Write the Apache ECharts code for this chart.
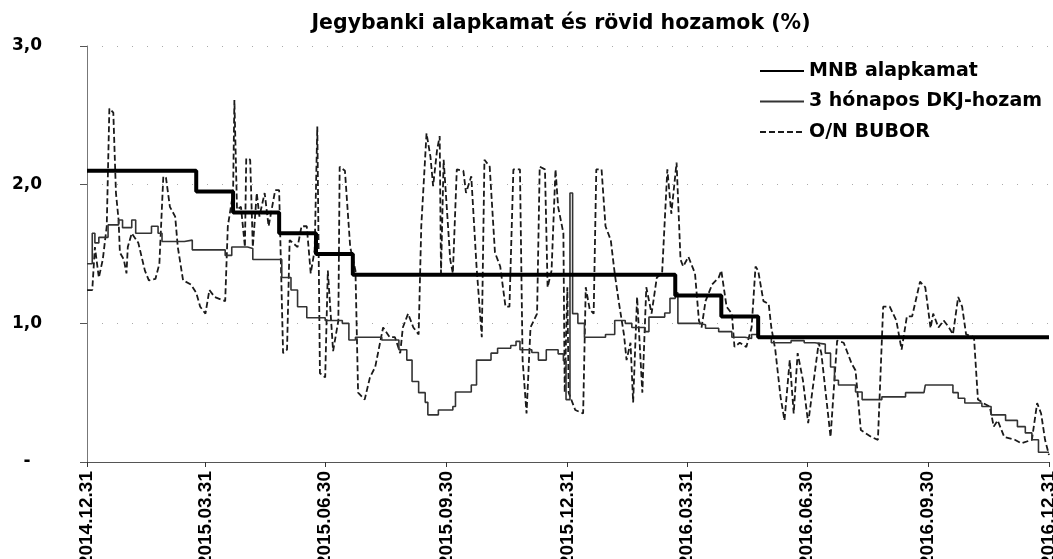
<!DOCTYPE html>
<html><head><meta charset="utf-8">
<script src="https://cdn.jsdelivr.net/npm/echarts@6/dist/echarts.min.js"></script>
<style>html,body{margin:0;padding:0;background:#fff}#c{width:1053px;height:559px}</style>
</head><body><div id="c"></div>
<script>
// Days counted from 2014-12-31
const startDate = '2014-12-31';
const tickDates = ['2014.12.31','2015.03.31','2015.06.30','2015.09.30','2015.12.31','2016.03.31','2016.06.30','2016.09.30','2016.12.31'];
const yTicks = [0, 1, 2, 3];

// MNB alapkamat (change dates as day offsets, new rate)
const mnbDays  = [0, 83, 111, 146, 174, 202, 447, 482, 510, 731];
const mnbRates = [2.10, 1.95, 1.80, 1.65, 1.50, 1.35, 1.20, 1.05, 0.90, 0.90];

// 3 hónapos DKJ-hozam
const dkjDays = [0, 4, 6, 9, 16, 24, 27, 34, 37, 49, 54, 57, 74, 80, 105, 110, 122, 126, 145, 148, 155, 160, 167, 181, 194, 199, 204, 224, 237, 243, 247, 252, 257, 259, 267, 278, 280, 292, 296, 307, 312, 322, 326, 329, 338, 343, 349, 358, 362, 364, 367, 369, 373, 378, 394, 401, 409, 414, 424, 427, 434, 439, 443, 447, 449, 465, 470, 480, 490, 500, 505, 510, 520, 535, 545, 553, 561, 565, 568, 571, 584, 589, 601, 604, 622, 636, 637, 655, 658, 662, 667, 680, 687, 698, 707, 713, 718, 723, 731];
const dkjYields = [1.43, 1.65, 1.58, 1.62, 1.71, 1.745, 1.69, 1.745, 1.65, 1.70, 1.65, 1.59, 1.60, 1.53, 1.49, 1.55, 1.54, 1.46, 1.46, 1.33, 1.24, 1.12, 1.04, 1.02, 1.00, 0.88, 0.90, 0.88, 0.81, 0.735, 0.58, 0.50, 0.43, 0.34, 0.375, 0.40, 0.505, 0.555, 0.735, 0.785, 0.82, 0.84, 0.87, 0.81, 0.79, 0.735, 0.81, 0.78, 0.73, 0.45, 1.94, 1.07, 1.00, 0.90, 0.92, 1.02, 1.00, 0.97, 0.94, 1.045, 1.045, 1.075, 1.18, 1.22, 1.00, 0.99, 0.965, 0.94, 0.90, 0.89, 0.92, 0.90, 0.86, 0.875, 0.86, 0.85, 0.785, 0.685, 0.59, 0.555, 0.505, 0.45, 0.45, 0.47, 0.50, 0.505, 0.555, 0.555, 0.50, 0.46, 0.425, 0.40, 0.34, 0.30, 0.255, 0.21, 0.16, 0.07, 0.07];

// O/N BUBOR
const buborDays = [0, 4, 6, 9, 12, 15, 17, 20, 22, 24, 25, 28, 30, 31, 34, 39, 44, 47, 52, 55, 58, 60, 63, 67, 69, 73, 79, 83, 86, 90, 93, 97, 105, 107, 111, 112, 114, 117, 120, 121, 124, 126, 129, 131, 135, 138, 143, 146, 149, 152, 154, 160, 163, 167, 170, 173, 175, 177, 181, 183, 187, 191, 192, 196, 200, 204, 206, 211, 215, 219, 225, 230, 234, 238, 240, 244, 248, 252, 254, 258, 261, 263, 266, 268, 269, 271, 276, 278, 281, 286, 288, 292, 296, 300, 302, 306, 310, 314, 318, 321, 324, 329, 331, 334, 337, 342, 344, 348, 350, 353, 356, 358, 362, 363, 365, 366, 371, 377, 379, 382, 385, 387, 391, 394, 398, 401, 404, 408, 410, 413, 415, 418, 422, 425, 429, 433, 437, 441, 444, 448, 451, 453, 457, 462, 465, 467, 470, 475, 480, 482, 486, 490, 492, 496, 501, 505, 508, 510, 514, 518, 520, 523, 527, 530, 534, 537, 540, 544, 548, 556, 558, 565, 570, 575, 581, 584, 588, 596, 601, 605, 610, 615, 619, 623, 627, 633, 637, 641, 643, 647, 651, 655, 658, 662, 665, 668, 674, 677, 681, 686, 689, 692, 697, 705, 710, 718, 722, 725, 728, 731];
const buborRates = [1.24, 1.24, 1.55, 1.33, 1.46, 1.70, 2.55, 2.52, 1.94, 1.745, 1.51, 1.46, 1.36, 1.55, 1.65, 1.58, 1.38, 1.31, 1.32, 1.43, 2.06, 2.05, 1.84, 1.77, 1.55, 1.31, 1.28, 1.22, 1.12, 1.07, 1.24, 1.19, 1.16, 1.70, 1.94, 2.61, 1.82, 1.84, 1.55, 2.19, 2.18, 1.55, 1.94, 1.77, 1.94, 1.70, 1.96, 1.96, 0.785, 0.81, 1.60, 1.55, 1.70, 1.70, 1.36, 1.53, 2.42, 0.64, 0.61, 1.38, 0.80, 1.02, 2.13, 2.10, 1.55, 1.38, 0.50, 0.45, 0.61, 0.685, 0.97, 0.90, 0.90, 0.785, 0.97, 1.07, 0.97, 0.92, 1.70, 2.37, 2.20, 1.99, 2.25, 2.35, 1.36, 2.18, 1.46, 1.36, 2.11, 2.10, 1.94, 2.06, 1.41, 0.90, 2.18, 2.13, 1.51, 1.41, 1.12, 1.12, 2.11, 2.11, 0.735, 0.35, 0.97, 1.07, 2.13, 2.11, 1.26, 1.38, 2.11, 1.84, 1.65, 0.50, 1.26, 0.50, 0.375, 0.35, 1.26, 1.10, 1.07, 2.11, 2.11, 1.70, 1.60, 1.36, 1.16, 0.92, 0.735, 0.86, 0.43, 1.19, 0.50, 1.26, 1.07, 1.33, 1.36, 2.11, 1.79, 2.16, 1.46, 1.41, 1.48, 1.36, 1.02, 0.97, 1.16, 1.28, 1.33, 1.38, 1.12, 1.07, 0.83, 0.86, 0.83, 0.97, 1.41, 1.38, 1.16, 1.14, 0.97, 0.81, 0.47, 0.30, 0.735, 0.35, 0.785, 0.59, 0.28, 0.86, 0.785, 0.18, 0.875, 0.86, 0.71, 0.66, 0.23, 0.18, 0.16, 1.12, 1.12, 1.02, 0.81, 1.05, 1.05, 1.30, 1.26, 0.965, 1.07, 0.97, 1.02, 0.97, 0.92, 1.19, 1.12, 0.92, 0.90, 0.45, 0.425, 0.40, 0.255, 0.30, 0.18, 0.16, 0.135, 0.16, 0.425, 0.35, 0.16, 0.05];

const seriesNames = ['MNB alapkamat', '3 hónapos DKJ-hozam', 'O/N BUBOR'];

function dayOffset(label) {
  const p = label.split('.').map(Number);
  const s = startDate.split('-').map(Number);
  return Math.round((Date.UTC(p[0], p[1] - 1, p[2]) - Date.UTC(s[0], s[1] - 1, s[2])) / 86400000);
}
const tickOffsets = tickDates.map(dayOffset);
const zip = (a, b) => a.map((v, i) => [v, b[i]]);

const wideFont = 'DejaVu Sans';
const chart = echarts.init(document.getElementById('c'), null, {renderer: 'canvas'});
chart.setOption({
  animation: false,
  backgroundColor: '#ffffff',
  title: {
    text: 'Jegybanki alapkamat és rövid hozamok (%)',
    left: 556, top: 8, textAlign: 'center',
    textStyle: {fontFamily: wideFont, fontWeight: 'bold', fontSize: 20.5, color: '#000'}
  },
  legend: {
    orient: 'vertical', left: 754, top: 56,
    itemWidth: 44, itemHeight: 14, itemGap: 10.5,
    itemStyle: {opacity: 0},
    data: seriesNames,
    textStyle: {fontFamily: wideFont, fontWeight: 'bold', fontSize: 19, lineHeight: 20, color: '#000'}
  },
  grid: {left: 87, right: 4, top: 46, bottom: 97, containLabel: false, outerBoundsMode: 'none'},
  xAxis: {
    type: 'value', min: tickOffsets[0], max: tickOffsets[tickOffsets.length - 1],
    axisLine: {show: true, lineStyle: {color: '#555', width: 1}},
    axisTick: {show: true, length: 5, customValues: tickOffsets, lineStyle: {color: '#333'}},
    axisLabel: {
      customValues: tickOffsets, rotate: 90, margin: 9,
      fontFamily: 'Liberation Sans', fontWeight: 'bold', fontSize: 19, color: '#000',
      formatter: v => { const i = tickOffsets.indexOf(Math.round(v)); return i >= 0 ? tickDates[i] : ''; }
    },
    splitLine: {show: false}
  },
  yAxis: {
    type: 'value', min: yTicks[0], max: yTicks[yTicks.length - 1], interval: 1,
    axisLine: {show: true, lineStyle: {color: '#777', width: 1}},
    axisTick: {show: true, length: 7, lineStyle: {color: '#555'}},
    axisLabel: {
      align: 'center', margin: 60,
      fontFamily: wideFont, fontWeight: 'bold', fontSize: 17, color: '#000',
      formatter: v => v === 0 ? '-' : v.toFixed(1).replace('.', ',')
    },
    splitLine: {show: true, lineStyle: {color: '#aaa', type: [1, 14], width: 1}}
  },
  series: [
    {name: seriesNames[0], type: 'line', step: 'end', symbol: 'none', z: 5,
     data: zip(mnbDays, mnbRates), lineStyle: {color: '#000', width: 4}, itemStyle: {color: '#000'}},
    {name: seriesNames[1], type: 'line', step: 'end', symbol: 'none', z: 4,
     data: zip(dkjDays, dkjYields), lineStyle: {color: '#333', width: 1.6}, itemStyle: {color: '#333'}},
    {name: seriesNames[2], type: 'line', symbol: 'none', z: 3,
     data: zip(buborDays, buborRates), lineStyle: {color: '#1a1a1a', width: 1.8, type: [6, 3]}, itemStyle: {color: '#1a1a1a'}}
  ]
});
</script>
</body></html>
